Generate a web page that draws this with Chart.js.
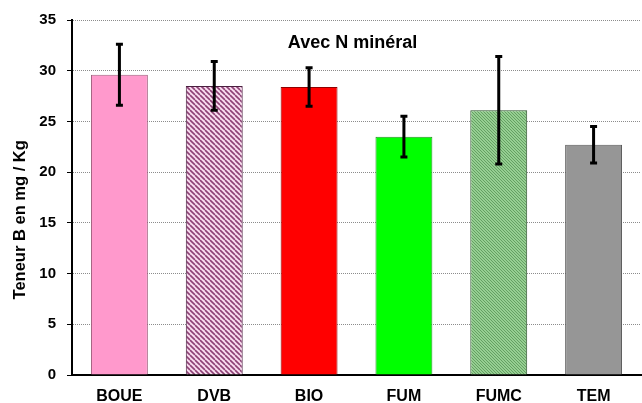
<!DOCTYPE html>
<html>
<head>
<meta charset="utf-8">
<script src="https://cdn.jsdelivr.net/npm/chart.js@4.4.0/dist/chart.umd.min.js"></script>
<style>
  html, body { margin: 0; padding: 0; background: #ffffff; }
  #chartWrap { width: 642px; height: 403px; }
</style>
</head>
<body>
<div id="chartWrap"><canvas id="teneurChart" width="642" height="403"></canvas></div>
<script>
// Teneur en B par traitement (mg/Kg), avec écart-type
const categories = ['BOUE', 'DVB', 'BIO', 'FUM', 'FUMC', 'TEM'];
const teneurValues = [29.6, 28.5, 28.4, 23.5, 26.1, 22.7];
const teneurErrors = [3.0, 2.4, 1.9, 2.0, 5.3, 1.8];
const yTicks = [0, 5, 10, 15, 20, 25, 30, 35];
const chartTitle = 'Avec N minéral';
const yTitle = 'Teneur B en mg / Kg';

const FONT = "Arial, 'Liberation Sans', sans-serif";

// hatched fills for DVB and FUMC
function makeStripes(bg, fg, size, width) {
    const c = document.createElement('canvas');
    c.width = size;
    c.height = size;
    const g = c.getContext('2d');
    g.fillStyle = bg;
    g.fillRect(0, 0, size, size);
    g.strokeStyle = fg;
    g.lineWidth = width;
    g.beginPath();
    for (let k = -1; k <= 1; k++) {
        g.moveTo(k * size, 0);
        g.lineTo(k * size + size, size);
    }
    g.stroke();
    return g.createPattern(c, 'repeat');
}

const ctx = document.getElementById('teneurChart').getContext('2d');
const dvbFill = makeStripes('#f8dcef', '#8e4276', 5, 1.6);
const fumcFill = makeStripes('#96cf92', '#64a062', 3, 1);

const barFills = ['#ff99cc', dvbFill, '#ff0000', '#00ff00', fumcFill, '#969696'];
const barBorders = ['#a0607e', '#4a2040', '#900000', '#209020', '#2c502c', '#585858'];

// error bars, chart title and the y axis title
const errorBarPlugin = {
    id: 'errorBars',
    afterDatasetsDraw(chart) {
        const c = chart.ctx;
        const xs = chart.scales.x;
        const ys = chart.scales.y;
        c.save();
        c.strokeStyle = '#000000';
        c.lineWidth = 3;
        teneurValues.forEach((v, i) => {
            const x = xs.getPixelForValue(i);
            const yTop = ys.getPixelForValue(v + teneurErrors[i]);
            const yBot = ys.getPixelForValue(v - teneurErrors[i]);
            c.beginPath();
            c.moveTo(x, yTop);
            c.lineTo(x, yBot);
            c.moveTo(x - 3.5, yTop);
            c.lineTo(x + 3.5, yTop);
            c.moveTo(x - 3.5, yBot);
            c.lineTo(x + 3.5, yBot);
            c.stroke();
        });
        c.fillStyle = '#000000';
        c.font = 'bold 18px ' + FONT;
        c.textAlign = 'center';
        c.textBaseline = 'middle';
        c.fillText(chartTitle, (xs.getPixelForValue(2) + xs.getPixelForValue(3)) / 2 - 4, ys.getPixelForValue(32.7));

        // y title sits a bit below the plot's middle
        c.translate(20, ys.getPixelForValue(15.3));
        c.rotate(-Math.PI / 2);
        c.font = 'bold 16.5px ' + FONT;
        c.fillText(yTitle, 0, 0);
        c.restore();
    }
};

new Chart(ctx, {
    type: 'bar',
    data: {
        labels: categories,
        datasets: [{
            label: yTitle,
            data: teneurValues,
            backgroundColor: barFills,
            borderColor: barBorders,
            borderWidth: 1,
            categoryPercentage: 1,
            barPercentage: 0.6
        }]
    },
    options: {
        responsive: false,
        animation: false,
        layout: { padding: { top: 10, right: 1, bottom: 0, left: 0 } },
        plugins: {
            legend: { display: false },
            tooltip: { enabled: false }
        },
        scales: {
            x: {
                grid: { display: false },
                border: { display: true, color: '#000000', width: 2 },
                ticks: {
                    color: '#000000',
                    padding: 4,
                    font: { family: FONT, size: 16, weight: 'bold' }
                },
                afterFit: function (scale) { scale.height = 28; }
            },
            y: {
                min: 0,
                max: 35,
                afterBuildTicks: function (scale) {
                    scale.ticks = yTicks.map(v => ({ value: v }));
                },
                grid: {
                    color: '#8c8c8c',
                    lineWidth: 1,
                    drawTicks: true,
                    tickLength: 5,
                    tickColor: '#000000',
                    tickBorderDash: [],
                    tickWidth: 1
                },
                border: { display: true, color: '#000000', width: 2, dash: [1, 1] },
                ticks: {
                    color: '#000000',
                    padding: 11,
                    font: { family: FONT, size: 15, weight: 'bold' }
                },
                afterFit: function (scale) { scale.width = 72; }
            }
        }
    },
    plugins: [errorBarPlugin]
});
</script>
</body>
</html>
